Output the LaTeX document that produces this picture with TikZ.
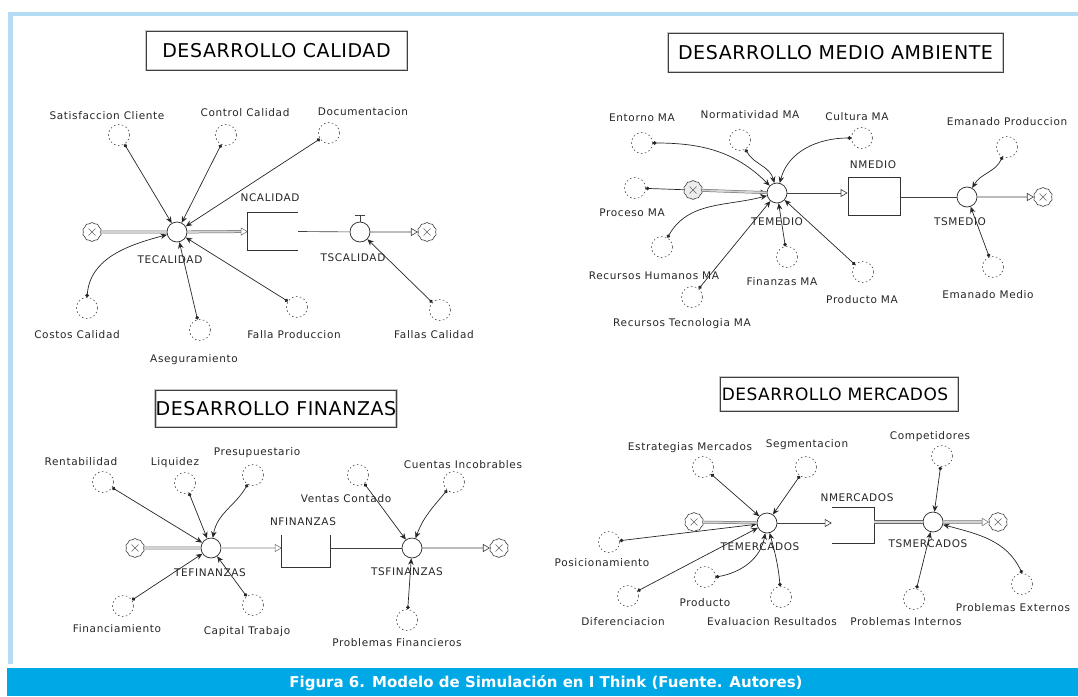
\documentclass[tikz,border=0pt]{standalone}
\usepackage{fontspec}
\usetikzlibrary{arrows.meta,shapes.symbols}
\newfontfamily\lblfont[LetterSpace=6]{DejaVu Sans}
\newfontfamily\ttlfont[LetterSpace=3]{DejaVu Sans}
\newfontfamily\capfont{DejaVu Sans}
\definecolor{frameblue}{RGB}{180,220,245}
\definecolor{bannerblue}{RGB}{0,168,230}
\begin{document}
\begin{tikzpicture}[x=1pt,y=-1pt,
  lbl/.style={font=\lblfont\fontsize{10.5}{12}\selectfont, text=black!85, inner sep=0},
  ttl/.style={draw=black!75, line width=1pt, preaction={draw=gray!45, line width=2.6pt},
              font=\ttlfont\fontsize{19}{22}\selectfont, text=black, inner sep=0},
  conv/.style={circle, draw=black!70, dash pattern=on 1.6pt off 2.4pt, line width=0.6pt,
               minimum size=21pt, inner sep=0},
  valve/.style={circle, draw=black!85, fill=white, line width=0.7pt, minimum size=20pt, inner sep=0},
  cloudn/.style={cloud, cloud puffs=10, cloud puff arc=100, aspect=1, draw=black!75, fill=white,
                 minimum width=19pt, minimum height=19pt, inner sep=0, line width=0.6pt,
                 path picture={\draw[black!60, line width=0.5pt]
                   ([shift={(-3.5pt,-3.5pt)}]path picture bounding box.center) -- ++(7pt,7pt)
                   ([shift={(-3.5pt,3.5pt)}]path picture bounding box.center) -- ++(7pt,-7pt);}},
  stockbox/.style={rectangle, inner sep=0},
  stockln/.style={draw=black!80, line width=0.8pt},
  link/.style={draw=black!85, line width=0.7pt,
               {Circle[length=3.6pt]}-{Stealth[length=6.5pt,width=5.5pt]}},
  pipe/.style={draw=black!60, line width=0.5pt, double=gray!35, double distance=1.8pt},
  flowln/.style={draw=black!75, line width=0.65pt},
  opentip/.style={-{Triangle[open,length=7pt,width=8pt]}}
]
\useasboundingbox (0,0) rectangle (1078,696);

% frame and caption banner
\fill[frameblue] (8,12) rectangle (1078,16);
\fill[frameblue] (8,12) rectangle (13,664);
\fill[bannerblue] (7,668) rectangle (1078,696);
\node[font=\capfont\bfseries\fontsize{15}{17}\selectfont, text=white, inner sep=0] (caption)
  at (546,683) {Figura 6. Modelo de Simulación en I Think (Fuente. Autores)};

% ---------------- DESARROLLO CALIDAD ----------------
\node[ttl, minimum width=261pt, minimum height=39pt] (ttlA) at (276.5,50.5) {DESARROLLO CALIDAD};

\node[cloudn] (srcA) at (92,232) {};
\node[valve] (tecal) at (177,232) {};
\node[lbl] (tecalL) at (170,260) {TECALIDAD};
\node[stockbox, minimum width=50pt, minimum height=37pt] (ncal) at (273,231.5) {};
\node[lbl] (ncalL) at (270,198) {NCALIDAD};
\node[valve] (tscal) at (360,232) {};
\node[lbl] (tscalL) at (353,258) {TSCALIDAD};
\node[cloudn] (snkA) at (427,232) {};

\draw[pipe] (srcA) -- (tecal);
\draw[pipe, opentip] (tecal) -- (ncal.west);
\draw[stockln] (ncal.north east) -- (ncal.north west) -- (ncal.south west) -- (ncal.south east);
\draw[flowln] (ncal.east) -- (tscal);
\draw[flowln, opentip] (tscal) -- (snkA);
\draw[flowln] (tscal.north) -- ++(0,-6) ++(-5,0) -- ++(10,0);

\node[conv] (satis) at (119,135) {};
\node[lbl] (satisL) at (107,116) {Satisfaccion Cliente};
\node[conv] (contr) at (226,135) {};
\node[lbl] (contrL) at (245,113) {Control Calidad};
\node[conv] (docum) at (329,133) {};
\node[lbl] (documL) at (363,112) {Documentacion};
\node[conv] (costo) at (87,308) {};
\node[lbl] (costoL) at (77,335) {Costos Calidad};
\node[conv] (asegu) at (200,330) {};
\node[lbl] (aseguL) at (194,360) {Aseguramiento};
\node[conv] (fallp) at (297,307) {};
\node[lbl] (fallpL) at (294,335) {Falla Produccion};
\node[conv] (fallc) at (440,310) {};
\node[lbl] (fallcL) at (434,335) {Fallas Calidad};

\draw[link] (satis) -- (tecal);
\draw[link] (contr) -- (tecal);
\draw[link] (docum) -- (tecal);
\draw[link] (costo.north) to[out=85,in=195] (tecal);
\draw[link] (asegu) -- (tecal);
\draw[link] (fallp) -- (tecal);
\draw[link] (fallc) -- (tscal);

% ---------------- DESARROLLO MEDIO AMBIENTE ----------------
\node[ttl, minimum width=335pt, minimum height=39pt] (ttlB) at (835.5,52.5) {DESARROLLO MEDIO AMBIENTE};

\node[valve] (temed) at (777,193) {};
\node[lbl] (temedL) at (777,222) {TEMEDIO};
\node[conv] (proma) at (635,188) {};
\node[lbl] (promaL) at (632,213) {Proceso MA};
\draw[link] (proma) -- (temed);
\node[cloudn, fill=gray!15] (srcB) at (693,190) {};
\node[stockbox, draw=black!80, line width=0.8pt, minimum width=52pt, minimum height=38pt] (nmed) at (874,196) {};
\node[lbl] (nmedL) at (873,165) {NMEDIO};
\node[valve] (tsmed) at (967,197) {};
\node[lbl] (tsmedL) at (960,222) {TSMEDIO};
\node[cloudn] (snkB) at (1043,197) {};

\draw[pipe] (srcB) -- (temed);
\draw[flowln, opentip] (temed) -- (nmed.west |- temed);
\draw[flowln] (nmed.east |- tsmed) -- (tsmed);
\draw[flowln, opentip] (tsmed) -- (snkB);

\node[conv] (entma) at (642,143) {};
\node[lbl] (entmaL) at (642,118) {Entorno MA};
\node[conv] (norma) at (740,140) {};
\node[lbl] (normaL) at (750,115) {Normatividad MA};
\node[conv] (culma) at (862,138) {};
\node[lbl] (culmaL) at (857,117) {Cultura MA};
\node[conv] (rhuma) at (662,247) {};
\node[lbl] (rhumaL) at (654,276) {Recursos Humanos MA};
\node[conv] (rtema) at (692,297) {};
\node[lbl] (rtemaL) at (682,324) {Recursos Tecnologia MA};
\node[conv] (finma) at (787,257) {};
\node[lbl] (finmaL) at (782,282) {Finanzas MA};
\node[conv] (prdma) at (863,272) {};
\node[lbl] (prdmaL) at (862,300) {Producto MA};
\node[conv] (emprd) at (1007,147) {};
\node[lbl] (emprdL) at (1007,122) {Emanado Produccion};
\node[conv] (emmed) at (993,267) {};
\node[lbl] (emmedL) at (988,295) {Emanado Medio};

\draw[link] (entma.east) to[out=0,in=135] (temed);
\draw[link] (norma) to[out=-60,in=105] (temed);
\draw[link] (culma.west) to[out=180,in=75] (temed);
\draw[link] (rhuma) to[out=60,in=195] (temed);
\draw[link] (rtema) -- (temed);
\draw[link] (finma) -- (temed);
\draw[link] (prdma) -- (temed);
\draw[link] (emprd) to[out=-115,in=60] (tsmed);
\draw[link] (emmed) -- (tsmed);

% ---------------- DESARROLLO FINANZAS ----------------
\node[ttl, minimum width=238pt, minimum height=37pt] (ttlC) at (276,408.5) {DESARROLLO FINANZAS};

\node[cloudn] (srcC) at (135,548) {};
\node[valve] (tefin) at (211,548) {};
\node[lbl] (tefinL) at (210,573) {TEFINANZAS};
\node[stockbox, minimum width=48pt, minimum height=32pt] (nfin) at (306,551) {};
\node[lbl] (nfinL) at (303,522) {NFINANZAS};
\node[valve] (tsfin) at (412,548) {};
\node[lbl] (tsfinL) at (407,572) {TSFINANZAS};
\node[cloudn] (snkC) at (499,548) {};

\draw[pipe] (srcC) -- (tefin);
\draw[pipe, opentip] (tefin) -- (nfin.west |- tefin);
\draw[stockln] (nfin.north west) -- (nfin.south west) -- (nfin.south east) -- (nfin.north east);
\draw[flowln] (nfin.east |- tsfin) -- (tsfin);
\draw[flowln, opentip] (tsfin) -- (snkC);

\node[conv] (renta) at (103,482) {};
\node[lbl] (rentaL) at (81,462) {Rentabilidad};
\node[conv] (liqui) at (185,483) {};
\node[lbl] (liquiL) at (175,463) {Liquidez};
\node[conv] (presu) at (253,475) {};
\node[lbl] (presuL) at (257,453) {Presupuestario};
\node[conv] (finan) at (123,606) {};
\node[lbl] (finanL) at (117,629) {Financiamiento};
\node[conv] (capit) at (253,605) {};
\node[lbl] (capitL) at (247,632) {Capital Trabajo};
\node[conv] (vcont) at (358,475) {};
\node[lbl] (vcontL) at (346,499) {Ventas Contado};
\node[conv] (cinco) at (454,482) {};
\node[lbl] (cincoL) at (463,465) {Cuentas Incobrables};
\node[conv] (probf) at (407,620) {};
\node[lbl] (probfL) at (397,643) {Problemas Financieros};

\draw[link] (renta) -- (tefin);
\draw[link] (liqui) -- (tefin);
\draw[link] (presu) to[out=-120,in=80] (tefin);
\draw[link] (finan) -- (tefin);
\draw[link] (capit) -- (tefin);
\draw[link] (vcont) -- (tsfin);
\draw[link] (cinco) to[out=-130,in=70] (tsfin);
\draw[link] (probf) -- (tsfin);

% ---------------- DESARROLLO MERCADOS ----------------
\node[ttl, minimum width=238pt, minimum height=34pt] (ttlD) at (839,394) {};
\node[font=\ttlfont\fontsize{17}{20}\selectfont, text=black, inner sep=0] (ttlDt) at (835,394) {DESARROLLO MERCADOS};

\node[valve] (temer) at (767,523) {};
\node[lbl] (temerL) at (760,547) {TEMERCADOS};
\node[conv] (posic) at (609,542) {};
\node[lbl] (posicL) at (602,563) {Posicionamiento};
\draw[link] (posic) -- (temer);
\node[cloudn] (srcD) at (694,522) {};
\node[stockbox, minimum width=42pt, minimum height=35pt] (nmer) at (853,525.5) {};
\node[lbl] (nmerL) at (857,498) {NMERCADOS};
\node[valve] (tsmer) at (933,522) {};
\node[lbl] (tsmerL) at (928,544) {TSMERCADOS};
\node[cloudn] (snkD) at (998,522) {};

\draw[pipe] (srcD) -- (temer);
\draw[flowln, opentip] (temer) -- (nmer.west |- temer);
\draw[stockln] (nmer.north west) -- (nmer.north east) -- (nmer.south east) -- (nmer.south west);
\draw[pipe, double distance=2.4pt] (nmer.east |- tsmer) -- (tsmer);
\draw[pipe, double distance=2.4pt, opentip] (tsmer) -- (snkD);

\node[conv] (estra) at (703,467) {};
\node[lbl] (estraL) at (690,448) {Estrategias Mercados};
\node[conv] (segme) at (806,467) {};
\node[lbl] (segmeL) at (807,445) {Segmentacion};
\node[conv] (difer) at (628,596) {};
\node[lbl] (diferL) at (623,622) {Diferenciacion};
\node[conv] (produ) at (705,577) {};
\node[lbl] (produL) at (705,603) {Producto};
\node[conv] (evalu) at (781,597) {};
\node[lbl] (evaluL) at (772,622) {Evaluacion Resultados};
\node[conv] (compe) at (942,456) {};
\node[lbl] (compeL) at (930,437) {Competidores};
\node[conv] (probi) at (914,599) {};
\node[lbl] (probiL) at (906,622) {Problemas Internos};
\node[conv] (probe) at (1022,584) {};
\node[lbl] (probeL) at (1013,608) {Problemas Externos};

\draw[link] (estra) -- (temer);
\draw[link] (segme) -- (temer);
\draw[link] (difer) -- (temer);
\draw[link] (produ.east) to[out=10,in=-100] (temer);
\draw[link] (evalu) to[out=95,in=-75] (temer);
\draw[link] (compe) -- (tsmer);
\draw[link] (probi) -- (tsmer);
\draw[link] (probe.north) to[out=115,in=-15] (tsmer);
\end{tikzpicture}
\end{document}
